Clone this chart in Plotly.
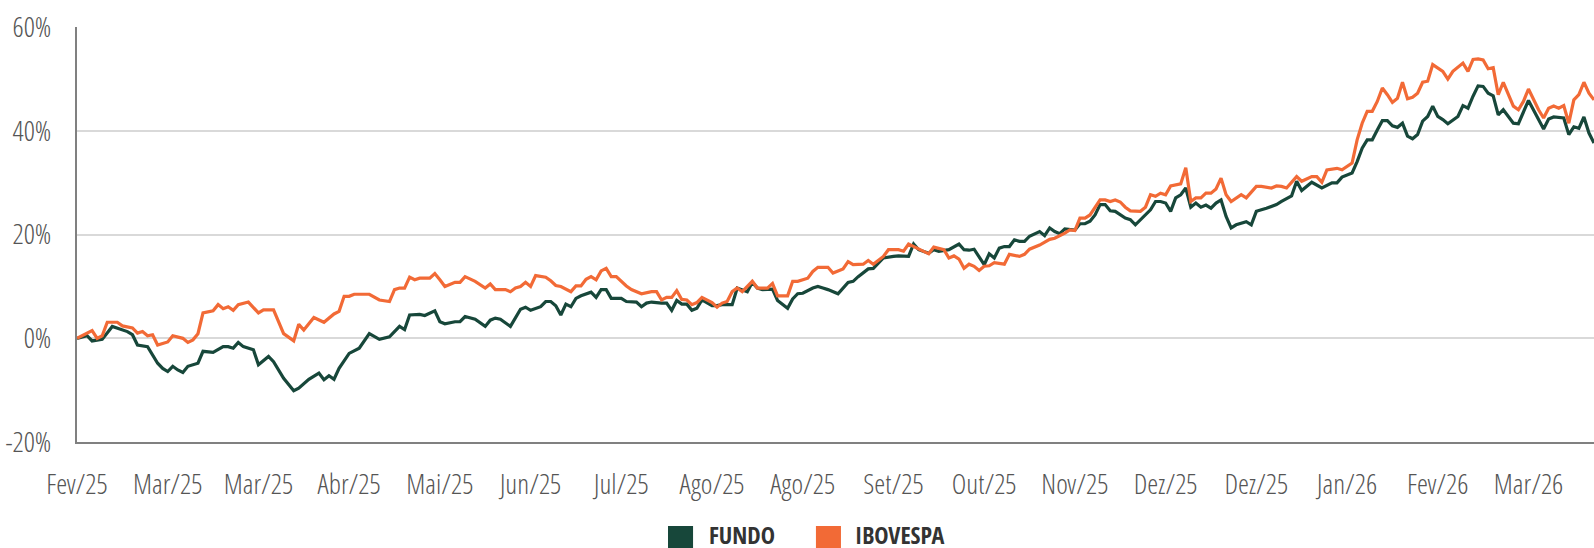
import plotly.graph_objects as go

# ---- data (trading-day index, cumulative return %) ----
fundo_day = [0, 2, 3, 5, 7, 8, 10, 11, 12, 14, 16, 17, 18, 19, 20, 21, 22, 24, 25, 27, 28, 29, 30, 31, 32, 33, 35, 36, 38, 39, 41, 43, 44, 46, 48, 49, 50, 51, 52, 54, 56, 58, 60, 62, 64,
             65, 66, 68, 69, 70, 71, 72, 73, 75, 76, 77, 78, 79, 81, 82, 83, 84, 86, 87, 88, 89, 90, 92, 93, 94, 95, 96, 97, 98, 99, 100, 102, 103, 104, 105, 106, 108, 109, 111, 112, 113, 114, 116, 117, 118, 119, 120, 121, 122, 123, 124, 126, 127, 128, 130, 131, 133, 134, 135, 136, 138, 139, 141, 142, 143, 144, 146, 147, 148, 149, 151, 152, 153, 154, 155, 157, 158, 159, 160, 162, 163,
             165, 166, 167, 169, 170, 171, 173, 174, 175, 176, 177, 178, 180, 181, 182, 183, 184, 185, 186, 187, 188, 189, 191, 192, 193, 194, 195, 196, 198, 199, 200, 201, 202, 203, 204, 205, 206, 208, 209, 210, 211, 213, 214, 215, 216, 217, 218, 219, 220, 221, 222, 223, 224, 225, 226, 227, 228, 229, 230, 232, 233,
             234, 236, 238, 239, 241, 242, 243, 245, 247, 249, 250, 251, 253, 254, 255, 256, 257, 258, 259, 260, 261, 262, 263, 264, 265, 266, 267, 268, 269, 270, 271, 272, 274, 275, 276, 277, 278, 279, 280, 281, 282, 283, 285, 286, 288, 290, 291, 292, 293, 295, 296, 297, 298, 299, 300, 301]
fundo_val = [0.0, 0.5, -0.5, -0.2, 2.3, 2.0, 1.3, 0.7, -1.3, -1.6, -4.8, -5.8, -6.4, -5.4, -6.1, -6.6, -5.4, -4.8, -2.5, -2.7, -2.1, -1.6, -1.6, -1.9, -0.8, -1.6, -2.2, -5.1, -3.5, -4.5, -7.7, -10.1, -9.6, -7.9, -6.7, -8.0, -7.2, -7.9, -5.8, -2.9, -1.9, 0.9, -0.2, 0.3, 2.3,
             1.7, 4.5, 4.6, 4.4, 4.8, 5.3, 3.2, 2.8, 3.2, 3.2, 4.2, 3.9, 3.7, 2.3, 3.5, 3.9, 3.7, 2.3, 3.9, 5.6, 6.0, 5.4, 6.1, 7.1, 7.1, 6.3, 4.5, 6.6, 6.1, 7.7, 8.2, 8.9, 7.9, 9.4, 9.4, 7.7, 7.7, 7.1, 7.0, 6.1, 6.8, 7.0, 6.8, 6.8, 5.4, 7.3, 6.6, 6.6, 5.4, 5.8, 7.4, 6.3, 6.3, 6.5, 6.5, 9.7, 9.0, 10.8, 9.7, 9.4, 9.5, 7.3, 5.8, 7.6, 8.6, 8.7, 9.7, 10.0, 9.7, 9.4, 8.6, 9.7, 10.8, 11.0, 11.9, 13.4, 13.5, 14.5, 15.5, 15.8, 15.9,
             15.8, 18.2, 17.1, 16.4, 17.1, 16.8, 17.1, 17.7, 18.2, 17.1, 17.0, 17.2, 14.2, 16.3, 15.5, 17.4, 17.7, 17.7, 19.0, 18.7, 18.7, 19.7, 20.6, 19.8, 21.3, 20.6, 20.2, 21.1, 20.9, 22.1, 22.1, 22.6, 23.8, 25.8, 25.8, 24.6, 24.5, 23.2, 22.9, 21.9, 22.9, 24.8, 26.4, 26.4, 26.1, 24.5, 27.1, 27.7, 29.0, 25.3, 26.1, 25.3, 25.7, 25.1, 26.1, 26.7, 23.5, 21.3, 21.9, 22.5, 21.9,
             24.5, 25.1, 25.8, 26.4, 27.5, 30.3, 28.5, 30.1, 29.0, 30.0, 30.0, 31.1, 31.9, 34.1, 36.7, 38.3, 38.3, 40.2, 42.0, 42.0, 41.0, 40.7, 41.5, 39.0, 38.5, 39.3, 41.9, 42.8, 44.8, 42.8, 42.2, 41.4, 42.8, 44.9, 44.4, 46.7, 48.7, 48.6, 47.3, 46.8, 43.1, 44.1, 41.5, 41.4, 45.9, 42.2, 40.4, 42.3, 42.7, 42.5, 39.3, 40.8, 40.5, 42.7, 39.6, 37.7]

ibov_day = [0, 2, 3, 4, 5, 6, 8, 9, 11, 12, 13, 14, 15, 16, 18, 19, 21, 22, 23, 24, 25, 27, 28, 29, 30, 31, 32, 34, 36, 37, 39, 41, 43, 44, 45, 47, 49, 51, 52, 53, 54, 55, 58, 60, 62, 63, 64,
            65, 66, 67, 68, 70, 71, 72, 73, 75, 76, 77, 78, 79, 81, 82, 83, 85, 86, 87, 88, 89, 90, 91, 93, 94, 95, 96, 98, 99, 100, 101, 102, 103, 104, 105, 106, 107, 109, 110, 112, 114, 115, 116, 117, 118, 119, 120, 121, 122, 123, 124, 126, 127, 128, 129, 130, 131, 132, 134, 135, 137, 138, 139, 141, 142, 143, 145, 146, 147, 149, 150, 152, 153, 154, 156, 157, 158, 160, 161, 163,
            164, 165, 166, 168, 169, 170, 171, 172, 173, 174, 175, 176, 177, 178, 179, 180, 181, 182, 184, 185, 187, 188, 189, 191, 193, 194, 196, 197, 198, 199, 200, 201, 203, 204, 205, 206, 207, 208, 209, 211, 212, 213, 214, 215, 216, 217, 219, 220, 221, 222, 223, 224, 225, 226, 227, 228, 229, 230, 231, 232,
            234, 235, 237, 238, 239, 240, 242, 243, 245, 246, 247, 248, 250, 251, 252, 253, 254, 255, 256, 257, 258, 259, 260, 261, 262, 263, 264, 265, 266, 267, 268, 269, 271, 272, 273, 275, 276, 277, 278, 279, 280, 281, 282, 283, 285, 286, 287, 288, 290, 291, 292, 293, 294, 295, 296, 297, 298, 299, 300, 301]
ibov_val = [0.0, 0.9, 1.5, 0.0, 0.5, 3.1, 3.1, 2.4, 2.0, 1.0, 1.3, 0.5, 0.7, -1.3, -0.7, 0.5, 0.0, -0.8, -0.3, 0.9, 4.9, 5.3, 6.5, 5.7, 6.1, 5.4, 6.5, 7.0, 4.9, 5.5, 5.5, 0.9, -0.5, 2.7, 1.6, 4.0, 3.1, 4.7, 5.2, 8.1, 8.1, 8.5, 8.5, 7.4, 7.1, 9.4, 9.7,
            9.7, 11.8, 11.3, 11.6, 11.6, 12.5, 11.3, 10.0, 10.8, 10.8, 11.9, 11.4, 11.0, 9.7, 10.5, 9.4, 9.4, 9.0, 9.7, 10.0, 10.8, 10.0, 12.1, 11.8, 11.1, 10.2, 10.0, 9.0, 10.1, 10.1, 11.4, 11.9, 11.3, 13.0, 13.5, 11.9, 11.9, 10.1, 9.4, 8.6, 9.0, 9.0, 7.4, 7.9, 7.9, 9.2, 7.5, 7.4, 6.5, 6.9, 7.9, 6.9, 6.0, 6.8, 7.1, 9.0, 9.7, 9.0, 11.0, 9.7, 9.7, 10.6, 8.2, 8.2, 11.0, 11.0, 11.6, 12.9, 13.7, 13.7, 12.6, 13.4, 14.8, 14.2, 14.3, 15.0, 14.3, 15.8, 17.1, 17.1,
            16.8, 18.2, 17.7, 16.8, 16.3, 17.6, 17.4, 17.1, 15.5, 15.9, 15.3, 13.5, 14.3, 13.9, 13.1, 13.9, 14.0, 14.6, 14.3, 16.2, 15.8, 16.2, 17.2, 18.0, 19.1, 19.3, 20.3, 20.9, 20.8, 23.2, 23.2, 23.8, 26.7, 26.7, 26.4, 26.7, 26.3, 25.3, 24.6, 24.5, 25.3, 27.7, 27.4, 28.0, 27.7, 29.4, 29.8, 32.9, 26.4, 27.1, 27.1, 28.0, 28.0, 28.8, 30.9, 27.7, 26.4, 27.1, 27.7, 27.1,
            29.3, 29.3, 29.0, 29.4, 29.3, 29.0, 31.2, 30.3, 31.2, 31.2, 30.1, 32.5, 32.8, 32.5, 33.2, 33.8, 38.3, 41.5, 43.8, 43.8, 45.7, 48.3, 47.0, 45.5, 46.3, 49.4, 46.2, 46.5, 47.3, 49.4, 49.6, 52.8, 51.5, 50.0, 51.5, 53.1, 51.5, 53.8, 53.9, 53.7, 52.0, 52.2, 47.0, 49.4, 44.8, 44.1, 45.7, 48.1, 44.1, 42.5, 44.4, 44.8, 44.4, 44.9, 41.5, 46.0, 47.0, 49.4, 47.3, 46.0]

tick_days = [0, 18, 36, 54, 72, 90, 108, 126, 144, 162, 180, 198, 216, 234, 252, 270, 288]
tick_labels = ["Fev/25", "Mar/25", "Mar/25", "Abr/25", "Mai/25", "Jun/25", "Jul/25", "Ago/25", "Ago/25",
               "Set/25", "Out/25", "Nov/25", "Dez/25", "Dez/25", "Jan/26", "Fev/26", "Mar/26"]
y_ticks = [-20, 0, 20, 40, 60]
series_names = ["FUNDO", "IBOVESPA"]

GREEN = "#17473A"
ORANGE = "#F26A36"
FONT = ("Open Sans Condensed, Noto Sans Condensed, Liberation Sans Narrow, Roboto Condensed, "
        "DejaVu Sans Condensed, sans-serif")
LIGHT_FONT = ("Open Sans Condensed Light, Open Sans Light Condensed, Noto Sans Condensed Light, "
              "Noto Sans Condensed, Liberation Sans Narrow, Open Sans Condensed, sans-serif")

fig = go.Figure()
fig.add_trace(go.Scatter(x=fundo_day, y=fundo_val, mode="lines", name=series_names[0],
                         line=dict(color=GREEN, width=3.2), showlegend=False))
fig.add_trace(go.Scatter(x=ibov_day, y=ibov_val, mode="lines", name=series_names[1],
                         line=dict(color=ORANGE, width=3.2), showlegend=False))

# manual legend (square swatches)
legend_items = [(0.3896, 0.4151, GREEN, series_names[0]), (0.4871, 0.5117, ORANGE, series_names[1])]
for sx, tx, col, name in legend_items:
    fig.add_shape(type="rect", xref="paper", yref="paper", x0=sx, x1=sx + 0.0165, y0=-0.2627, y1=-0.2024,
                  fillcolor=col, line=dict(width=0))
    fig.add_annotation(xref="paper", yref="paper", x=tx, y=-0.224, xanchor="left", yanchor="middle",
                       text=name, showarrow=False,
                       font=dict(family=FONT, size=24, color="#333333", weight="bold"))

tick_font = dict(family=LIGHT_FONT, size=28, color="#555555", weight=300)

fig.update_layout(
    width=1594, height=548,
    margin=dict(l=77, r=0, t=27, b=106),
    paper_bgcolor="white", plot_bgcolor="white",
    font=dict(family=LIGHT_FONT, size=28, color="#555555", weight=300),
    showlegend=False,
)
fig.update_xaxes(range=[0, 301], tickmode="array", tickvals=tick_days, ticktext=tick_labels,
                 showgrid=False, zeroline=False, showline=True, linecolor="#808080", linewidth=2,
                 ticks="", ticklabelstandoff=16, tickfont=tick_font)
fig.update_yaxes(range=[-20, 60.06], tickmode="array", tickvals=y_ticks,
                 ticktext=[f"{v}%" for v in y_ticks],
                 showgrid=True, gridcolor="#d9d9d9", gridwidth=2, zeroline=False,
                 showline=True, linecolor="#808080", linewidth=2,
                 ticks="", ticklabelstandoff=18, tickfont=tick_font)

fig.write_html("out.html", config={"displayModeBar": False},
               post_script="document.body.style.margin='0';document.body.style.overflow='hidden';")
